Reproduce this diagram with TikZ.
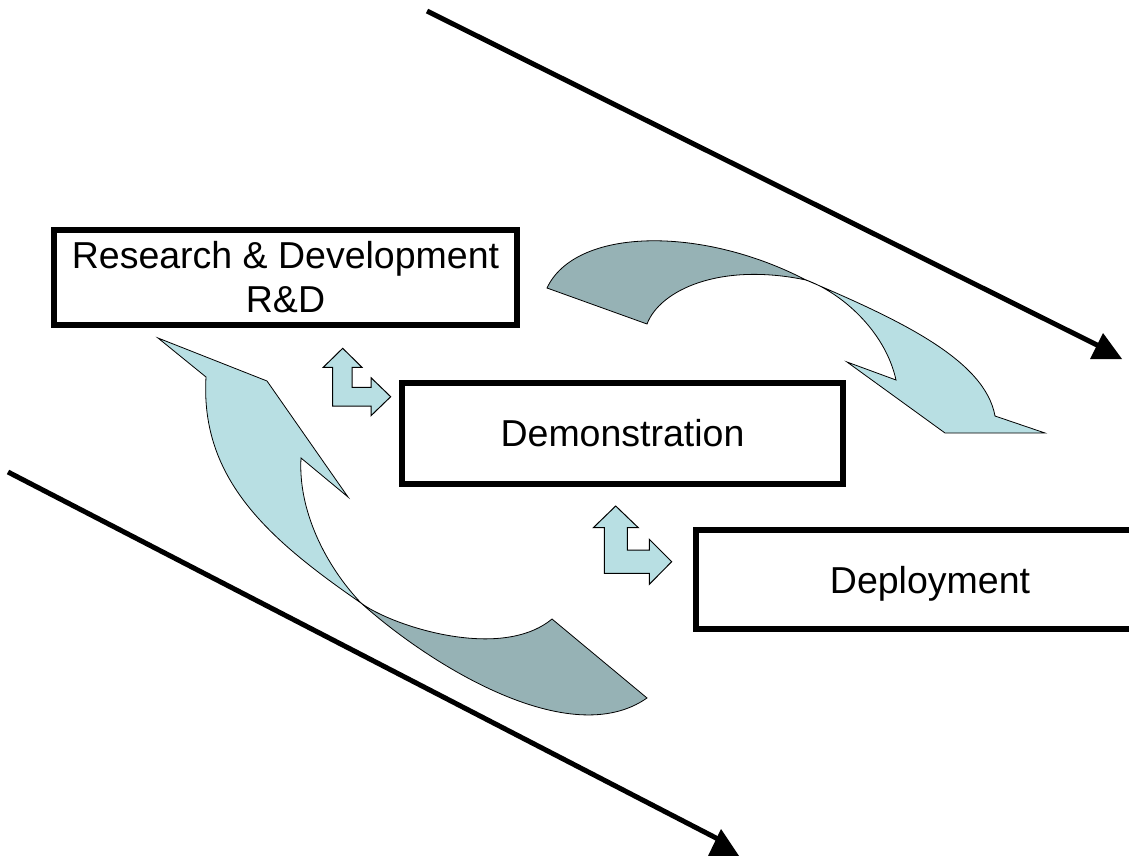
\documentclass[tikz,border=0pt]{standalone}
\usepackage{fontspec}
\setmainfont{Liberation Sans}
\usetikzlibrary{arrows.meta}
\definecolor{lightc}{RGB}{184,223,227}
\definecolor{darkc}{RGB}{150,178,181}
\begin{document}
\begin{tikzpicture}[x=1pt,y=-1pt,
  box/.style={draw=black,line width=6pt,fill=white,inner sep=0pt,align=center,font=\fontsize{37.5}{44}\selectfont},
  trend/.style={draw=black,line width=5pt},
  tiph/.style={fill=black},
  ribbonlight/.style={fill=lightc,draw=black,line width=0.8pt,line join=miter},
  ribbondark/.style={fill=darkc,draw=black,line width=0.8pt,line join=miter},
  bent/.style={fill=lightc,draw=black,line width=1pt,line join=miter}]
\useasboundingbox (0,0) rectangle (1129,856);

% trend lines
\coordinate (ta) at (427,11);
\coordinate (tb) at (1101,347);
\draw[trend] (ta) -- (tb);
\fill[tiph] (1103,333) -- (1090,359) -- (1122,359) -- cycle;
\coordinate (ba) at (8,472);
\coordinate (bb) at (718,839);
\draw[trend] (ba) -- (bb);
\fill[tiph] (721,829) -- (708,856) -- (739,856) -- cycle;

% boxes
\node[box,minimum width=463pt,minimum height=95pt] (rd) at (285.5,277.5) {Research \& Development\\R\&D};
\node[box,minimum width=441pt,minimum height=101pt] (demo) at (622.5,433.5) {Demonstration};
\node[box,minimum width=468pt,minimum height=99pt,text depth=0pt] (depl) at (930,579.5) {Deployment};

% top curved arrow
\filldraw[ribbondark] (547,288) .. controls (575,228) and (700,225) .. (806,280)
  .. controls (720,262) and (660,290) .. (647,324) -- cycle;
\filldraw[ribbonlight] (806,280) .. controls (900,320) and (985,360) .. (995,416)
  -- (1045,433) -- (945,433) -- (847,362) -- (896,380)
  .. controls (885,330) and (840,292) .. (806,280) -- cycle;

% bottom curved arrow
\filldraw[ribbonlight] (206,377) .. controls (200,480) and (270,540) .. (361,603)
  .. controls (325,565) and (298,510) .. (301,458) -- (348,497) -- (267,381) -- (158,338) -- cycle;
\filldraw[ribbondark] (361,603) .. controls (430,665) and (570,752) .. (647,698)
  -- (552,619) .. controls (500,662) and (390,625) .. (361,603) -- cycle;

% bent arrows
\filldraw[bent] (342.7,348.3) -- (362,367.3) -- (352,367.3) -- (352,387.3) -- (371,387.3)
  -- (371,377.7) -- (390.7,396.7) -- (371,415.7) -- (371,406) -- (332.7,406)
  -- (332.7,367.3) -- (323.3,367.3) -- cycle;
\filldraw[bent] (615.7,506) -- (638.3,527.7) -- (627.3,527.7) -- (627.3,550) -- (649.3,550)
  -- (649.3,539.3) -- (671.7,561.7) -- (649.3,584.3) -- (649.3,573.3) -- (604.3,573.3)
  -- (604.3,527.7) -- (593.3,527.7) -- cycle;
\end{tikzpicture}
\end{document}
